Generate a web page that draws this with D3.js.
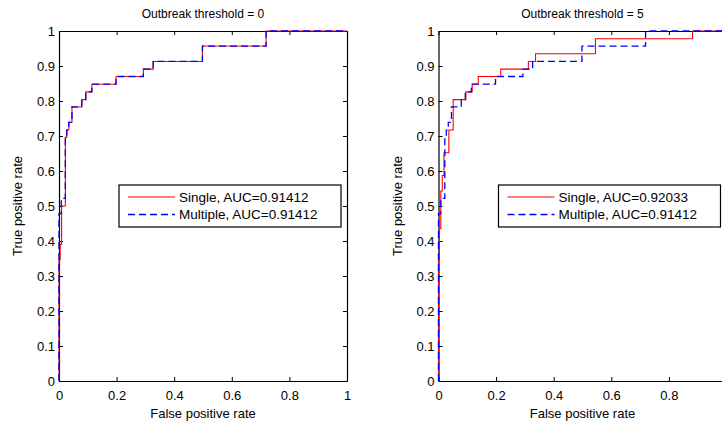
<!DOCTYPE html>
<html>
<head>
<meta charset="utf-8">
<script src="https://cdn.jsdelivr.net/npm/d3@7"></script>
<style>
  body { margin: 0; background: #fff; }
  svg { display: block; font-family: "Liberation Sans", Arial, sans-serif; }
  .domain { stroke: #000; stroke-width: 1.2; }
  .tick line { stroke: #000; }
  .tick text { font-size: 13px; fill: #000; }
</style>
</head>
<body>
<div id="chart"></div>
<script>
// tick labels
var xTicks = [0, 0.2, 0.4, 0.6, 0.8, 1]
var yTicks = [0, 0.1, 0.2, 0.3, 0.4, 0.5, 0.6, 0.7, 0.8, 0.9, 1]
var titles = ["Outbreak threshold = 0", "Outbreak threshold = 5"]

// ROC curves, one point at the top of every rise (false positive rate, true positive rate)
var singleFpr0 = [0, 0, 0.004, 0.009, 0.022, 0.027, 0.034, 0.045, 0.079, 0.093, 0.114, 0.198, 0.293, 0.327, 0.498, 0.719, 1]
var singleTpr0 = [0, 0.348, 0.391, 0.5, 0.696, 0.717, 0.739, 0.783, 0.804, 0.826, 0.848, 0.870, 0.891, 0.913, 0.957, 1, 1]
var multiFpr0 = [0, 0, 0.008, 0.022, 0.027, 0.034, 0.045, 0.079, 0.093, 0.114, 0.198, 0.293, 0.327, 0.498, 0.719, 1]
var multiTpr0 = [0, 0.478, 0.522, 0.696, 0.717, 0.739, 0.783, 0.804, 0.826, 0.848, 0.870, 0.891, 0.913, 0.957, 1, 1]

var singleFpr5 = [0, 0, 0.003, 0.008, 0.013, 0.019, 0.036, 0.051, 0.095, 0.117, 0.138, 0.216, 0.312, 0.337, 0.545, 0.882, 1]
var singleTpr5 = [0, 0.348, 0.435, 0.543, 0.587, 0.652, 0.717, 0.804, 0.826, 0.848, 0.870, 0.891, 0.913, 0.935, 0.978, 1, 1]
var multiFpr5 = [0, 0, 0.008, 0.022, 0.027, 0.034, 0.045, 0.079, 0.093, 0.114, 0.198, 0.293, 0.327, 0.498, 0.719, 1]
var multiTpr5 = [0, 0.478, 0.522, 0.696, 0.717, 0.739, 0.783, 0.804, 0.826, 0.848, 0.870, 0.891, 0.913, 0.957, 1, 1]

var aucSingle = ["0.91412", "0.92033"]
var aucMulti = ["0.91412", "0.91412"]

var W = 722, H = 424

var svg = d3.select("#chart").append("svg").attr("width", W).attr("height", H)

var zip = (xs, ys) => xs.map((v, i) => [v, ys[i]])

var drawPanel = (left, title, single, multi, auc1, auc2) => {
    var w = 288, h = 350, top = 31

    var x = d3.scaleLinear().domain([0, 1]).range([0, w])
    var y = d3.scaleLinear().domain([0, 1]).range([h, 0])

    var g = svg.append("g").attr("transform", "translate(" + left + "," + top + ")")

    var fmt = d => String(d)
    // labels that would fall past the page edge are not shown (the figure is cropped there)
    var xfmt = d => (left + x(d) + 4 > W ? "" : String(d))

    g.append("g").attr("transform", "translate(0," + h + ")")
        .call(d3.axisBottom(x).tickValues(xTicks).tickFormat(xfmt).tickSizeInner(-4).tickSizeOuter(0).tickPadding(10))
    g.append("g")
        .call(d3.axisTop(x).tickValues(xTicks).tickFormat("").tickSizeInner(-4).tickSizeOuter(0))
    g.append("g")
        .call(d3.axisLeft(y).tickValues(yTicks).tickFormat(fmt).tickSizeInner(-4).tickSizeOuter(0).tickPadding(4))
    g.append("g").attr("transform", "translate(" + w + ",0)")
        .call(d3.axisRight(y).tickValues(yTicks).tickFormat("").tickSizeInner(-4).tickSizeOuter(0))

    var line = d3.line().x(d => x(d[0])).y(d => y(d[1])).curve(d3.curveStepAfter)

    g.append("path").attr("d", line(single))
        .attr("fill", "none").attr("stroke", "#ff0000").attr("stroke-width", 1.1)
    g.append("path").attr("d", line(multi))
        .attr("fill", "none").attr("stroke", "#0000ff").attr("stroke-width", 1.3)
        .attr("stroke-dasharray", "7,4")

    g.append("text").attr("x", w / 2).attr("y", -13)
        .attr("text-anchor", "middle").attr("font-size", 12).text(title)
    g.append("text").attr("x", w / 2).attr("y", h + 37)
        .attr("text-anchor", "middle").attr("font-size", 13).text("False positive rate")
    g.append("text").attr("transform", "translate(-37," + (h / 2) + ") rotate(-90)")
        .attr("text-anchor", "middle").attr("font-size", 13).text("True positive rate")

    // legend
    var lg = g.append("g").attr("transform", "translate(60,154)")
    lg.append("rect").attr("width", 222).attr("height", 42)
        .attr("fill", "#fff").attr("stroke", "#000").attr("stroke-width", 1.2)
    lg.append("line").attr("x1", 9).attr("x2", 56).attr("y1", 12).attr("y2", 12)
        .attr("stroke", "#ff0000").attr("stroke-width", 1.1)
    lg.append("line").attr("x1", 9).attr("x2", 56).attr("y1", 29.5).attr("y2", 29.5)
        .attr("stroke", "#0000ff").attr("stroke-width", 1.3).attr("stroke-dasharray", "7,4")
    lg.append("text").attr("x", 60).attr("y", 16.5).attr("font-size", 13.5)
        .text("Single, AUC=" + auc1)
    lg.append("text").attr("x", 60).attr("y", 34).attr("font-size", 13.5)
        .text("Multiple, AUC=" + auc2)
}

drawPanel(59, titles[0], zip(singleFpr0, singleTpr0), zip(multiFpr0, multiTpr0), aucSingle[0], aucMulti[0])
drawPanel(438.5, titles[1], zip(singleFpr5, singleTpr5), zip(multiFpr5, multiTpr5), aucSingle[1], aucMulti[1])
</script>
</body>
</html>
